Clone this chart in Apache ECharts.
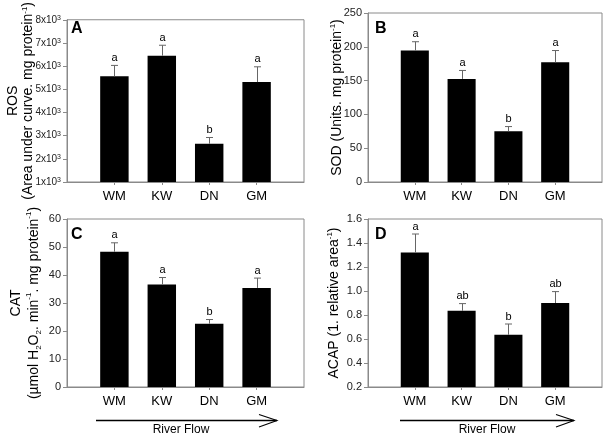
<!DOCTYPE html>
<html>
<head>
<meta charset="utf-8">
<script src="https://cdn.jsdelivr.net/npm/echarts@6/dist/echarts.min.js"></script>
<style>
html,body{margin:0;padding:0;background:#fff;}
#main{width:607px;height:437px;}
</style>
</head>
<body>
<div id="main"></div>
<script>
// sites along the river, upstream -> downstream
var sites = ['WM', 'KW', 'DN', 'GM'];
var xCats = [''].concat(sites).concat(['']);

var rosMean = [5560, 6450, 2650, 5310];
var rosErr = [6030, 6900, 2920, 5970];
var rosLetters = ['a', 'a', 'b', 'a'];

var sodMean = [194.5, 152.5, 75, 177];
var sodErr = [207.5, 165, 82, 194.5];
var sodLetters = ['a', 'a', 'b', 'a'];

var catMean = [48.3, 36.6, 22.6, 35.4];
var catErr = [51.5, 39.1, 24.1, 38.9];
var catLetters = ['a', 'a', 'b', 'a'];

var acapMean = [1.32, 0.835, 0.635, 0.9];
var acapErr = [1.475, 0.895, 0.725, 0.995];
var acapLetters = ['a', 'ab', 'b', 'ab'];

var panelTags = ['A', 'B', 'C', 'D'];

var GRAY = '#8a8a8a';
var FONT = 'Liberation Sans';

var grids = [
    {left: 67, top: 13, width: 237, height: 169},
    {left: 368, top: 13, width: 234, height: 169},
    {left: 67, top: 219, width: 237, height: 168},
    {left: 368, top: 219, width: 234, height: 168}
];

function nameRich(lh) {
    return {
        t: {fontSize: 14, fontFamily: FONT, color: '#000', lineHeight: lh},
        sup: {fontSize: 8, fontFamily: FONT, color: '#000', verticalAlign: 'top'},
        sub: {fontSize: 8, fontFamily: FONT, color: '#000', verticalAlign: 'bottom'}
    };
}

var yNames = [
    '{t|ROS}\n{t|(Area under curve. mg protein}{sup|-1}{t|)}',
    '{t|SOD (Units. mg protein}{sup|-1}{t|)}',
    '{t|CAT}\n{t|(µmol H}{sub|2}{t|O}{sub|2}{t|. min}{sup|-1}{t|. mg protein}{sup|-1}{t|)}',
    '{t|ACAP (1. relative area}{sup|-1}{t|)}'
];
var yGaps = [31, 23, 24, 26];
var yLineH = [15, 16, 18, 16];
var yMin = [1000, 0, 0, 0.2];
var yMax = [8000, 250, 60, 1.6];
var yStep = [1000, 50, 10, 0.2];
var yFont = [10, 11, 11, 11];
var yFmt = [
    function (v) { return '{n|' + (v / 1000) + 'x10}{s|3}'; },
    function (v) { return v; },
    function (v) { return v; },
    function (v) { return v.toFixed(1); }
];

var means = [rosMean, sodMean, catMean, acapMean];
var errs = [rosErr, sodErr, catErr, acapErr];
var letters = [rosLetters, sodLetters, catLetters, acapLetters];

var xAxes = [], yAxes = [], series = [];
for (var g = 0; g < 4; g++) {
    xAxes.push({
        type: 'category', gridIndex: g, data: xCats, boundaryGap: false,
        axisLine: {lineStyle: {color: GRAY, width: 1}},
        axisTick: {length: 3, lineStyle: {color: GRAY},
            interval: function (i) { return i > 0 && i < 5; }},
        axisLabel: {fontSize: 13, fontFamily: FONT, color: '#000', margin: 8, interval: 0},
        splitLine: {show: false}
    });
    yAxes.push({
        type: 'value', gridIndex: g, min: yMin[g], max: yMax[g], interval: yStep[g],
        name: yNames[g], nameLocation: 'middle', nameRotate: 90, nameGap: yGaps[g],
        nameMoveOverlap: false,
        nameTextStyle: {rich: nameRich(yLineH[g]), align: 'center'},
        axisLine: {show: true, lineStyle: {color: GRAY, width: 1}},
        axisTick: {show: true, length: 4, lineStyle: {color: GRAY}},
        axisLabel: {fontSize: yFont[g], fontFamily: FONT, color: '#222', margin: 6,
            formatter: yFmt[g],
            rich: {n: {fontSize: 10, fontFamily: FONT, color: '#222'},
                   s: {fontSize: 7, fontFamily: FONT, color: '#222', verticalAlign: 'top'}}},
        splitLine: {show: false}
    });
    var m = means[g], e = errs[g], l = letters[g];
    series.push({
        type: 'bar', xAxisIndex: g, yAxisIndex: g, barWidth: '60%',
        itemStyle: {color: '#000'},
        data: sites.map(function (s, i) { return [s, m[i]]; })
    });
    series.push({
        type: 'custom', xAxisIndex: g, yAxisIndex: g, z: 5,
        data: sites.map(function (s, i) { return [s, m[i], e[i], l[i]]; }),
        renderItem: (function (lab) {
            return function (params, api) {
                var p0 = api.coord([api.value(0), api.value(1)]);
                var p1 = api.coord([api.value(0), api.value(2)]);
                var x = Math.round(p0[0]) + 0.5;
                return {
                    type: 'group',
                    children: [
                        {type: 'line', shape: {x1: x, y1: p0[1], x2: x, y2: p1[1]},
                            style: {stroke: '#666', lineWidth: 1}},
                        {type: 'line', shape: {x1: x - 3.5, y1: p1[1], x2: x + 3.5, y2: p1[1]},
                            style: {stroke: '#666', lineWidth: 1}},
                        {type: 'text', x: x, y: p1[1] - 2,
                            style: {text: lab[params.dataIndex], fontSize: 11, fontFamily: FONT,
                                fill: '#000', align: 'center', verticalAlign: 'bottom'}}
                    ]
                };
            };
        })(l)
    });
}

var graphics = [];
grids.forEach(function (gr, i) {
    graphics.push({type: 'text', left: gr.left + (i % 2 === 0 ? 4 : 7), top: gr.top + 8,
        style: {text: panelTags[i], fontSize: 16, fontWeight: 'bold', fontFamily: FONT, fill: '#000'}});
});
// river flow arrows under the bottom panels
[[96, 277, 181], [400, 574, 487]].forEach(function (a) {
    graphics.push({type: 'polyline', shape: {points: [[a[0], 420.5], [a[1], 420.5]]},
        style: {stroke: '#000', lineWidth: 1.3, fill: null}});
    graphics.push({type: 'polyline', shape: {points: [[a[1] - 18, 414.5], [a[1], 420.5], [a[1] - 18, 427]]},
        style: {stroke: '#000', lineWidth: 1.1, fill: null}});
    graphics.push({type: 'text', x: a[2], y: 430, style: {text: 'River Flow', fontSize: 12,
        fontFamily: FONT, fill: '#000', align: 'center', verticalAlign: 'middle'}});
});

var chart = echarts.init(document.getElementById('main'));
chart.setOption({
    backgroundColor: '#fff',
    animation: false,
    grid: grids.map(function (gr) {
        return {left: gr.left, top: gr.top, width: gr.width, height: gr.height,
            show: true, borderColor: GRAY, borderWidth: 1, backgroundColor: 'transparent'};
    }),
    xAxis: xAxes,
    yAxis: yAxes,
    series: series,
    graphic: graphics
});
</script>
</body>
</html>
